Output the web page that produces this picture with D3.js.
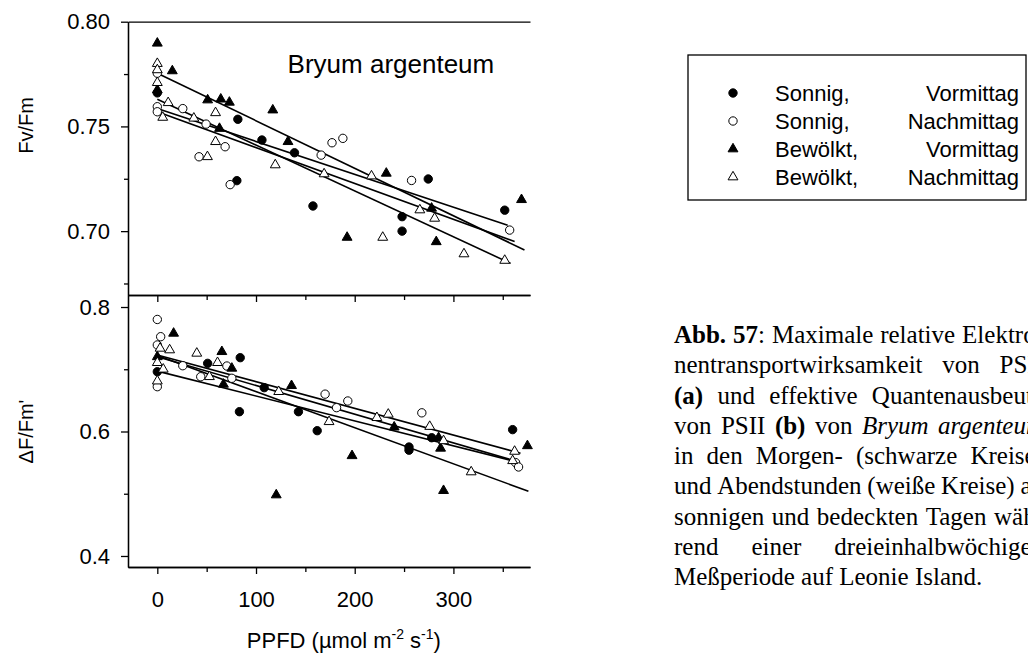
<!DOCTYPE html>
<html><head><meta charset="utf-8">
<script src="https://cdn.jsdelivr.net/npm/d3@7"></script>
<style>
html,body{margin:0;padding:0;background:#fff;}
svg{display:block;}
</style></head><body>
<svg id="c" width="1028" height="663"></svg>
<script>
// ---------------- data ----------------
const xTicks = [0, 100, 200, 300];
const xMinorTicks = [50, 150, 250, 350];
const fvTicks = [0.70, 0.75, 0.80];
const fvMinorTicks = [0.675, 0.725, 0.775];
const dfTicks = [0.4, 0.6, 0.8];
const dfMinorTicks = [0.5, 0.7];

const legendDay = ["Sonnig,", "Sonnig,", "Bewölkt,", "Bewölkt,"];
const legendTime = ["Vormittag", "Nachmittag", "Vormittag", "Nachmittag"];
const speciesLabel = "Bryum argenteum";
const yTitleTop = "Fv/Fm";
const yTitleBottom = "ΔF/Fm'";

// Fv/Fm  [PPFD, value]
const fvSunnyAM = [[0,0.766],[81.6,0.7534],[106,0.7435],[139,0.7374],[80.6,0.7241],[157.7,0.712],
  [248,0.7069],[248,0.700],[274.5,0.7249],[352,0.710]];
const fvSunnyPM = [[0,0.7754],[0,0.7594],[0,0.757],[25.8,0.7585],[49.4,0.7511],[68.7,0.7403],
  [42.3,0.7355],[73.8,0.7222],[166,0.7363],[177,0.7422],[188,0.7443],[257.6,0.7242],[357,0.7005]];
const fvCloudyAM = [[0,0.7897],[15.2,0.7765],[0,0.7674],[51,0.7626],[64.3,0.763],[73,0.7615],
  [63,0.749],[117,0.7578],[132.4,0.7427],[192.3,0.697],[232,0.7276],[277.9,0.7109],[282.6,0.6949],[369,0.715]];
const fvCloudyPM = [[0,0.780],[0,0.777],[0,0.7709],[11,0.7613],[5.5,0.7543],[37,0.7539],[59,0.7565],
  [59,0.7427],[50.8,0.7355],[119.5,0.7316],[169,0.7273],[217,0.7263],[228.4,0.697],[266,0.7101],
  [281,0.7061],[310.7,0.6891],[352,0.686]];

// dF/Fm'
const dfSunnyAM = [[0,0.696],[51,0.7095],[84,0.7186],[83.2,0.6318],[108.3,0.6704],[143,0.6318],
  [162,0.6013],[255,0.575],[255,0.570],[278,0.590],[360,0.603]];
const dfSunnyPM = [[0,0.780],[3.4,0.7523],[0,0.739],[0,0.672],[25.8,0.7057],[44,0.688],[70.5,0.7052],
  [75.5,0.6855],[170,0.660],[181.6,0.6383],[193,0.649],[268,0.630],[363,0.550],[366,0.543]];
const dfCloudyAM = [[0,0.720],[16.5,0.7577],[65.4,0.7282],[75.5,0.7015],[67,0.6758],[136,0.6736],
  [120.5,0.498],[197.3,0.561],[240,0.607],[285,0.590],[287,0.573],[290,0.505],[375,0.577]];
const dfCloudyPM = [[2.8,0.7336],[12.5,0.731],[0,0.7106],[6,0.700],[0,0.681],[40,0.7256],[61,0.7106],
  [52.8,0.688],[123,0.664],[174,0.6157],[222.5,0.6222],[234,0.6276],[276,0.608],[290,0.585],
  [318,0.535],[360,0.553],[362,0.568]];

// regression lines [xStart, xEnd, yStart, yEnd]
const fvFitSunnyAM = [0, 355, 0.7585, 0.7028];
const fvFitSunnyPM = [0, 362, 0.757, 0.695];
const fvFitCloudyAM = [0, 372, 0.7754, 0.691];
const fvFitCloudyPM = [0, 358, 0.763, 0.6846];
const dfFitSunnyAM = [0, 360, 0.697, 0.553];
const dfFitSunnyPM = [0, 368, 0.723, 0.565];
const dfFitCloudyAM = [0, 376, 0.722, 0.504];
const dfFitCloudyPM = [0, 362, 0.720, 0.553];

const captionLines = [
  [["Abb. 57","b"],[": Maximale relative Elektro-",""]],
  [["nentransportwirksamkeit von PSII",""]],
  [["(a)","b"],[" und effektive Quantenausbeute",""]],
  [["von PSII ",""],["(b)","b"],[" von ",""],["Bryum argenteum","i"]],
  [["in den Morgen- (schwarze Kreise)",""]],
  [["und Abendstunden (weiße Kreise) an",""]],
  [["sonnigen und bedeckten Tagen wäh-",""]],
  [["rend einer dreieinhalbwöchigen",""]],
  [["Meßperiode auf Leonie Island.",""]]
];

// ---------------- drawing ----------------
const svg = d3.select("#c");
const SANS = "Liberation Sans, Arial, Helvetica, sans-serif";
const SERIF = "Liberation Serif, Times New Roman, serif";

const x = d3.scaleLinear().domain([-29.7, 377.6]).range([128, 530]);
const yTop = d3.scaleLinear().domain([0.6695, 0.80]).range([295, 21.7]);
const yBot = d3.scaleLinear().domain([0.3823, 0.8193]).range([567, 295]);

function styleAxis(g, fs) {
  g.selectAll("path.domain").attr("stroke", "#000").attr("stroke-width", 1.3);
  g.selectAll(".tick line").attr("stroke", "#000").attr("stroke-width", 1.3);
  g.selectAll(".tick text").attr("fill", "#000").attr("font-family", SANS).attr("font-size", fs);
}

// top border
const topBorder = svg.append("g").attr("transform", `translate(0,${yTop(0.80)})`)
  .call(d3.axisTop(x).tickValues([]).tickSizeOuter(0));
styleAxis(topBorder, 22);

// separator (top panel x axis, no labels)
const sep = svg.append("g").attr("transform", `translate(0,${yTop.range()[0]})`)
  .call(d3.axisBottom(x).tickValues(xTicks).tickSize(7).tickFormat("").tickSizeOuter(0));
styleAxis(sep, 22);
const sepMinor = svg.append("g").attr("transform", `translate(0,${yTop.range()[0]})`)
  .call(d3.axisBottom(x).tickValues(xMinorTicks).tickSize(5).tickFormat("").tickSizeOuter(0));
styleAxis(sepMinor, 22);

// bottom x axis
const xAx = svg.append("g").attr("transform", `translate(0,${yBot.range()[0]})`)
  .call(d3.axisBottom(x).tickValues(xTicks).tickSize(7).tickPadding(17).tickFormat(d3.format("d")).tickSizeOuter(0));
styleAxis(xAx, 22);
const xAxMinor = svg.append("g").attr("transform", `translate(0,${yBot.range()[0]})`)
  .call(d3.axisBottom(x).tickValues(xMinorTicks).tickSize(5).tickFormat("").tickSizeOuter(0));
styleAxis(xAxMinor, 22);

// y axes
const left = x.range()[0];
const yA1 = svg.append("g").attr("transform", `translate(${left},0)`)
  .call(d3.axisLeft(yTop).tickValues(fvTicks).tickSize(7).tickPadding(11).tickFormat(d3.format(".2f")).tickSizeOuter(0));
styleAxis(yA1, 22);
const yA1m = svg.append("g").attr("transform", `translate(${left},0)`)
  .call(d3.axisLeft(yTop).tickValues(fvMinorTicks).tickSize(4).tickFormat("").tickSizeOuter(0));
styleAxis(yA1m, 22);
const yA2 = svg.append("g").attr("transform", `translate(${left},0)`)
  .call(d3.axisLeft(yBot).tickValues(dfTicks).tickSize(7).tickPadding(11).tickFormat(d3.format(".1f")).tickSizeOuter(0));
styleAxis(yA2, 22);
const yA2m = svg.append("g").attr("transform", `translate(${left},0)`)
  .call(d3.axisLeft(yBot).tickValues(dfMinorTicks).tickSize(4).tickFormat("").tickSizeOuter(0));
styleAxis(yA2m, 22);

// axis titles
svg.append("text").attr("transform", `translate(33,${yTop(0.7505)}) rotate(-90)`)
  .attr("text-anchor", "middle").attr("font-family", SANS).attr("font-size", 20).text(yTitleTop);
svg.append("text").attr("transform", `translate(33,${yBot(0.6)}) rotate(-90)`)
  .attr("text-anchor", "middle").attr("font-family", SANS).attr("font-size", 20).text(yTitleBottom);

const xt = svg.append("text").attr("x", x(189)).attr("y", 648).attr("text-anchor", "middle")
  .attr("font-family", SANS).attr("font-size", 22);
xt.append("tspan").text("PPFD (µmol m");
xt.append("tspan").attr("font-size", 14).attr("dy", -9).text("-2");
xt.append("tspan").attr("dy", 9).text(" s");
xt.append("tspan").attr("font-size", 14).attr("dy", -9).text("-1");
xt.append("tspan").attr("dy", 9).text(")");

// species label
svg.append("text").attr("x", x(132)).attr("y", yTop(0.7757)).attr("font-family", SANS)
  .attr("font-size", 26).text(speciesLabel);

// series styles
const symCircle = d3.symbol().type(d3.symbolCircle).size(55);
const symTri = d3.symbol().type(d3.symbolTriangle).size(42);
const seriesStyle = [
  {sym: symCircle, fill: "#000"},
  {sym: symCircle, fill: "#fff"},
  {sym: symTri, fill: "#000"},
  {sym: symTri, fill: "#fff"}
];

function drawPanel(y, fits, series) {
  const g = svg.append("g");
  fits.forEach(f => {
    g.append("line").attr("x1", x(f[0])).attr("x2", x(f[1])).attr("y1", y(f[2])).attr("y2", y(f[3]))
      .attr("stroke", "#000").attr("stroke-width", 1.6);
  });
  series.forEach((s, i) => {
    const st = seriesStyle[i];
    g.selectAll(null).data(s).enter().append("path")
      .attr("d", st.sym())
      .attr("transform", d => `translate(${x(d[0])},${y(d[1])})`)
      .attr("fill", st.fill).attr("stroke", "#000").attr("stroke-width", 1);
  });
}
drawPanel(yTop, [fvFitSunnyAM, fvFitSunnyPM, fvFitCloudyAM, fvFitCloudyPM],
  [fvSunnyAM, fvSunnyPM, fvCloudyAM, fvCloudyPM]);
drawPanel(yBot, [dfFitSunnyAM, dfFitSunnyPM, dfFitCloudyAM, dfFitCloudyPM],
  [dfSunnyAM, dfSunnyPM, dfCloudyAM, dfCloudyPM]);

// legend
const lg = svg.append("g");
lg.append("rect").attr("x", 688).attr("y", 55).attr("width", 338).attr("height", 145)
  .attr("fill", "none").attr("stroke", "#000").attr("stroke-width", 1.3);
legendDay.forEach((d, i) => {
  const cy = 93 + i * 28;
  const st = seriesStyle[i];
  lg.append("path").attr("d", st.sym()).attr("transform", `translate(733,${cy})`)
    .attr("fill", st.fill).attr("stroke", "#000").attr("stroke-width", 1);
  lg.append("text").attr("x", 775).attr("y", cy + 8).attr("font-family", SANS).attr("font-size", 22).text(d);
  lg.append("text").attr("x", 1019).attr("y", cy + 8).attr("text-anchor", "end")
    .attr("font-family", SANS).attr("font-size", 22).text(legendTime[i]);
});

// caption (justified)
const cap = svg.append("g").attr("font-family", SERIF).attr("font-size", 25).attr("fill", "#000");
const capX = 674, capW = 370, capY0 = 343, capLead = 30.25;
function splitWords(line) {
  const words = [[]];
  line.forEach(([txt, st]) => {
    const parts = txt.split(" ");
    parts.forEach((p, k) => {
      if (k > 0) words.push([]);
      if (p.length) words[words.length - 1].push([p, st]);
    });
  });
  return words.filter(w => w.length);
}
captionLines.forEach((line, i) => {
  const words = splitWords(line);
  const yy = capY0 + i * capLead;
  const els = words.map(w => {
    const t = cap.append("text").attr("y", yy);
    w.forEach(s => t.append("tspan").text(s[0])
      .attr("font-weight", s[1] === "b" ? "bold" : null)
      .attr("font-style", s[1] === "i" ? "italic" : null));
    return t;
  });
  const widths = els.map(e => e.node().getComputedTextLength());
  const total = d3.sum(widths);
  const last = i === captionLines.length - 1;
  const gap = last ? 6.25 : (capW - total) / Math.max(1, words.length - 1);
  let xx = capX;
  els.forEach((e, k) => { e.attr("x", xx); xx += widths[k] + gap; });
});
</script>
</body></html>
